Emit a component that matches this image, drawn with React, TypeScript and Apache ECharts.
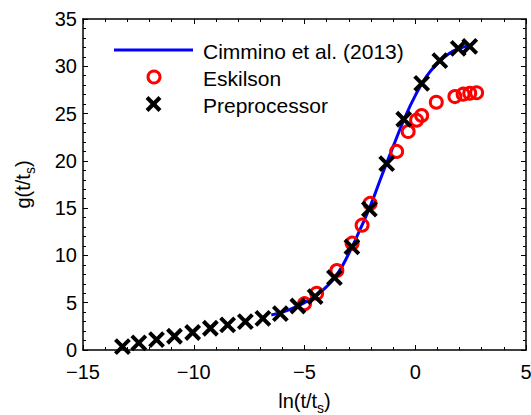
import React, { useEffect, useRef } from 'react';
import * as echarts from 'echarts';

// Cimmino et al. (2013) curve
const cimminoX = [-6.5, -6.0, -5.5, -5.0, -4.5, -4.0, -3.5, -3.0, -2.5, -2.0, -1.5, -1.0, -0.5, 0.0, 0.5, 1.0, 1.5, 2.0, 2.5];
const cimminoY = [3.7, 4.0, 4.45, 5.0, 5.75, 6.7, 8.1, 10.2, 12.7, 15.4, 18.5, 21.5, 24.4, 26.9, 28.9, 30.3, 31.3, 31.9, 32.2];

// Eskilson points
const eskilsonX = [-5.0, -4.45, -3.54, -2.85, -2.4, -2.04, -0.84, -0.32, 0.06, 0.29, 0.95, 1.79, 2.16, 2.46, 2.77];
const eskilsonY = [4.9, 6.0, 8.4, 11.3, 13.2, 15.5, 21.0, 23.1, 24.3, 24.8, 26.2, 26.8, 27.05, 27.15, 27.2];

// Preprocessor points
const preX = [-13.22, -12.48, -11.68, -10.87, -10.05, -9.25, -8.47, -7.67, -6.88, -6.09, -5.3, -4.52, -3.65, -2.86, -2.07, -1.29, -0.52, 0.29, 1.11, 1.94, 2.46];
const preY = [0.35, 0.75, 1.1, 1.45, 1.85, 2.3, 2.65, 3.0, 3.35, 3.85, 4.65, 5.65, 7.65, 10.9, 14.9, 19.7, 24.4, 28.2, 30.6, 31.9, 32.1];

const xMin = -15, xMax = 5, xStep = 5;
const yMin = 0, yMax = 35, yStep = 5;

const legendNames = ['Cimmino et al. (2013)', 'Eskilson', 'Preprocessor'];

const FONT = 'Liberation Sans, Arial, Helvetica, sans-serif';

export default function App() {
  const ref = useRef<HTMLDivElement>(null);
  useEffect(() => {
    if (!ref.current) return;
    const chart = echarts.init(ref.current, undefined, { renderer: 'svg' });
    const fmt = (v: number) => String(v).replace('-', '\u2212');
    const axisCommon = {
      axisLine: { show: true, onZero: false, lineStyle: { color: '#000', width: 1.5 } },
      axisTick: { show: true, inside: true, length: 5, lineStyle: { color: '#000', width: 1 } },
      minorTick: { show: true, splitNumber: 5, length: 3, lineStyle: { color: '#000', width: 1 } },
      splitLine: { show: false },
    };
    const tickFont = { color: '#000', fontSize: 20, fontFamily: FONT };
    const nameRich = { s: { fontSize: 14, fontFamily: FONT, color: '#000', padding: [15, 0, 0, 0] } };
    chart.setOption({
      animation: false,
      backgroundColor: '#fff',
      grid: { left: 83, right: 5, top: 19, bottom: 65, containLabel: false, outerBoundsMode: 'none' },
      xAxis: [
        {
          type: 'value', min: xMin, max: xMax, interval: xStep, position: 'bottom',
          ...axisCommon,
          axisLabel: { ...tickFont, margin: 12, formatter: fmt },
          name: 'ln(t/t{s|s})', nameLocation: 'middle', nameGap: 36,
          nameTextStyle: { ...tickFont, rich: nameRich },
        },
        {
          type: 'value', min: xMin, max: xMax, interval: xStep, position: 'top',
          ...axisCommon, axisLabel: { show: false },
        },
      ],
      yAxis: [
        {
          type: 'value', min: yMin, max: yMax, interval: yStep, position: 'left',
          ...axisCommon,
          axisLabel: { ...tickFont, margin: 6, formatter: fmt },
          name: 'g(t/t{s|s})', nameLocation: 'middle', nameGap: 46, nameRotate: 90,
          nameTextStyle: { ...tickFont, rich: nameRich },
        },
        {
          type: 'value', min: yMin, max: yMax, interval: yStep, position: 'right',
          ...axisCommon, axisLabel: { show: false },
        },
      ],
      series: [
        {
          name: legendNames[0], type: 'line', smooth: true, showSymbol: false,
          data: cimminoX.map((x, i) => [x, cimminoY[i]]),
          lineStyle: { color: '#0000ff', width: 3 }, z: 2,
        },
        {
          name: legendNames[1], type: 'scatter', symbol: 'circle', symbolSize: 12,
          data: eskilsonX.map((x, i) => [x, eskilsonY[i]]),
          itemStyle: { color: 'rgba(0,0,0,0)', borderColor: '#ff0000', borderWidth: 3, opacity: 1 }, z: 3,
        },
        {
          name: legendNames[2], type: 'scatter', symbol: 'path://M0,0L10,10M10,0L0,10', symbolSize: 14,
          data: preX.map((x, i) => [x, preY[i]]),
          itemStyle: { color: 'rgba(0,0,0,0)', borderColor: '#000', borderWidth: 4, opacity: 1 }, z: 4,
        },
      ],
      graphic: [
        { type: 'line', shape: { x1: 114, y1: 50, x2: 193, y2: 50 }, style: { stroke: '#0000ff', lineWidth: 3 } },
        { type: 'circle', shape: { cx: 154, cy: 77, r: 6 }, style: { fill: 'none', stroke: '#ff0000', lineWidth: 3 } },
        { type: 'line', shape: { x1: 147, y1: 97.5, x2: 160, y2: 110.5 }, style: { stroke: '#000', lineWidth: 4 } },
        { type: 'line', shape: { x1: 160, y1: 97.5, x2: 147, y2: 110.5 }, style: { stroke: '#000', lineWidth: 4 } },
        { type: 'text', x: 203, y: 51, style: { text: legendNames[0], fill: '#000', fontSize: 21, fontFamily: FONT, verticalAlign: 'middle' } },
        { type: 'text', x: 203, y: 78, style: { text: legendNames[1], fill: '#000', fontSize: 21, fontFamily: FONT, verticalAlign: 'middle' } },
        { type: 'text', x: 203, y: 105, style: { text: legendNames[2], fill: '#000', fontSize: 21, fontFamily: FONT, verticalAlign: 'middle' } },
      ],
    });
    return () => chart.dispose();
  }, []);
  return <div ref={ref} style={{ position: 'fixed', left: 0, top: 0, width: 531, height: 415 }} />;
}
